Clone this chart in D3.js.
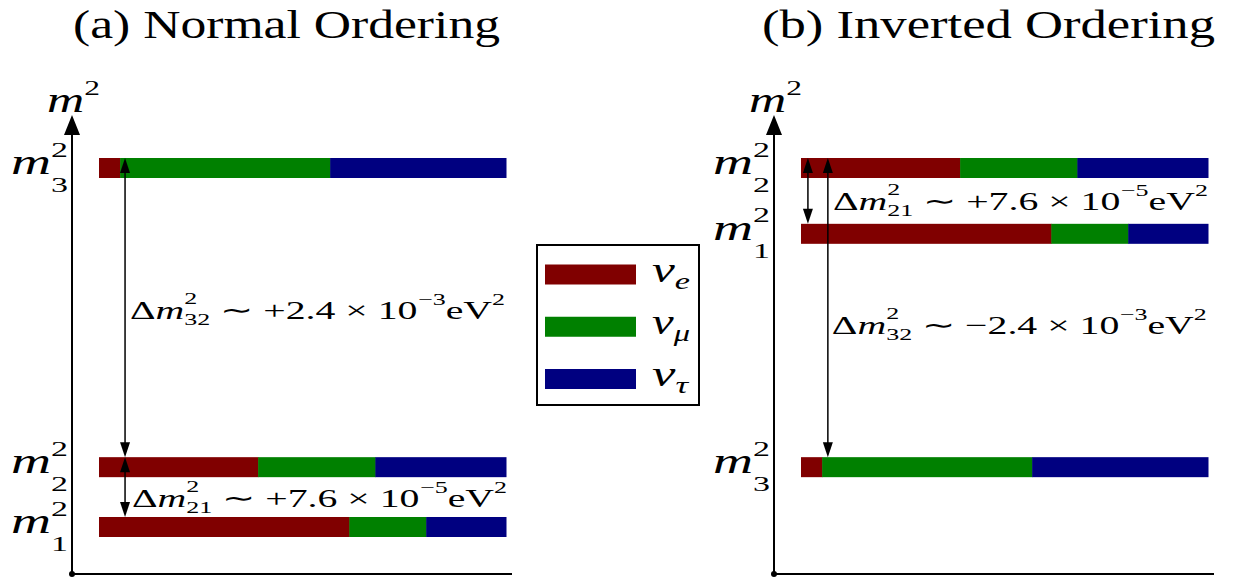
<!DOCTYPE html>
<html>
<head>
<meta charset="utf-8">
<script src="https://cdn.jsdelivr.net/npm/d3@7"></script>
<style>
  body { margin: 0; background: #fff; }
  svg { display: block; }
</style>
</head>
<body>
<svg id="chart" width="1237" height="581"></svg>
<script>
// ---- data -------------------------------------------------------------
// mass eigenstates (index) and neutrino flavours
const states = ["1", "2", "3"];
const flavours = ["e", "μ", "τ"];
const flavourColors = ["#800000", "#008000", "#000080"];
// flavour content of each mass eigenstate (m1, m2, m3)
const fracE   = [0.615, 0.391, 0.052];
const fracMu  = [0.189, 0.288, 0.516];
const fracTau = [0.196, 0.321, 0.432];
// schematic m² level of m1, m2, m3 in each ordering
const normalLevels   = [0, 1, 6];
const invertedLevels = [4.9, 6, 1];
const panelTitles = ["(a) Normal Ordering", "(b) Inverted Ordering"];
// mass splittings: lower state, upper state, sign, mantissa, exponent
const normalSplits = [
  { lo: 1, hi: 2, name: "32", sign: "+", val: "2.4", exp: "−3", at: 0.064 },
  { lo: 0, hi: 1, name: "21", sign: "+", val: "7.6", exp: "−5", at: 0.064 }
];
const invertedSplits = [
  { lo: 0, hi: 1, name: "21", sign: "+", val: "7.6", exp: "−5", at: 0.017 },
  { lo: 2, hi: 1, name: "32", sign: "−", val: "2.4", exp: "−3", at: 0.066 }
];

// ---- font: first installed serif face from the list -------------------
function pickFont(list) {
  const ctx = document.createElement("canvas").getContext("2d");
  const probe = "mmmmmwwwlliiΔν0123";
  const width = fam => { ctx.font = `40px ${fam}`; return ctx.measureText(probe).width; };
  for (const f of list) {
    const q = `"${f}"`;
    if (width(`${q}, monospace`) !== width("monospace") ||
        width(`${q}, sans-serif`) !== width("sans-serif")) return q;
  }
  return "serif";
}
const serif = pickFont(["Liberation Serif", "Times New Roman", "Tinos", "DejaVu Serif"]) + ", serif";

// ---- layout -----------------------------------------------------------
const svg = d3.select("#chart");
const barH = 20;
const y = d3.scaleLinear().domain([0, 6]).range([527, 168]);
const axisBottom = 574, axisTip = 115;

// label placement per splitting: text start offset and baseline offset from arrow middle
const normalLabelPos = [{ dx: 5, dy: 11 }, { dx: 7, dy: 20 }];
const invertedLabelPos = [{ dx: 25, dy: 19.5 }, { dx: 4, dy: 26.5 }];

// draws a run of text pieces (base, super/subscripts) and stretches it to a width
function drawMath(parent, runs, x, baseline, width, anchor) {
  const g = parent.append("g");
  const inner = g.append("g");
  let cx = 0;
  const put = (p, at) => {
    const t = inner.append("text")
      .attr("x", at).attr("y", p.dy || 0)
      .style("font-family", serif)
      .style("font-size", p.size + "px")
      .style("font-style", p.italic ? "italic" : "normal")
      .attr("fill", "#000")
      .style("white-space", "pre")
      .text(p.t);
    return t.node().getComputedTextLength();
  };
  runs.forEach(r => {
    if (r.stack) {
      const w = Math.max(...r.stack.map(p => put(p, cx)));
      cx += w;
    } else {
      cx += put(r, cx);
    }
  });
  const s = width ? width / cx : 1;
  inner.attr("transform", `scale(${s},1)`);
  const x0 = anchor === "end" ? x - cx * s : x;
  g.attr("transform", `translate(${x0},${baseline})`);
  return g;
}
const R = (t, size, dy) => ({ t, size, dy: dy || 0, italic: false });
const I = (t, size, dy) => ({ t, size, dy: dy || 0, italic: true });

function arrowHead(g, x, yTip, dir, len, half) {
  // dir = -1 points up, +1 points down
  g.append("path")
    .attr("d", `M${x},${yTip} L${x - half},${yTip - dir * len} L${x + half},${yTip - dir * len} Z`)
    .attr("fill", "#000");
}

function drawPanel(offset, levels, splits, labelPos, title, titleWidth) {
  const g = svg.append("g").attr("transform", `translate(${offset},0)`);
  const axisX = 72;
  const x = d3.scaleLinear().domain([0, 1]).range([99, 506]);

  // title
  g.append("text")
    .attr("x", offset ? 60 : 73)
    .attr("y", 38)
    .style("font-family", serif)
    .style("font-size", "40px")
    .attr("textLength", titleWidth)
    .attr("lengthAdjust", "spacingAndGlyphs")
    .text(title);

  // axes
  g.append("line")
    .attr("x1", axisX).attr("x2", axisX)
    .attr("y1", axisBottom).attr("y2", axisTip + 18)
    .attr("stroke", "#000").attr("stroke-width", 2);
  arrowHead(g, axisX, axisTip, -1, 20, 8);
  g.append("line")
    .attr("x1", axisX).attr("x2", 512)
    .attr("y1", axisBottom).attr("y2", axisBottom)
    .attr("stroke", "#000").attr("stroke-width", 2);
  g.append("circle").attr("cx", axisX).attr("cy", axisBottom).attr("r", 3).attr("fill", "#000");
  drawMath(g, [I("m", 36), R("2", 22, -17)], 47, 112, 53, "start");

  // stacked flavour bars
  const rows = states.map((s, i) => {
    const parts = [fracE[i], fracMu[i], fracTau[i]];
    let acc = 0;
    return parts.map((f, k) => {
      const seg = { state: i, flavour: k, x0: acc, x1: acc + f, level: levels[i] };
      acc += f;
      return seg;
    });
  }).flat();
  g.selectAll("rect.seg").data(rows).join("rect")
    .attr("class", "seg")
    .attr("x", d => x(d.x0))
    .attr("width", d => x(d.x1) - x(d.x0) + 0.5)
    .attr("y", d => y(d.level) - barH / 2)
    .attr("height", barH)
    .attr("fill", d => flavourColors[d.flavour]);

  // level labels m_i^2
  states.forEach((s, i) => {
    const yc = y(levels[i]);
    drawMath(g, [I("m", 36), { stack: [R("2", 22, -17.5), R(s, 22, 18)] }],
      axisX - 4, yc + 6, 57, "end");
  });

  // splitting arrows and labels
  splits.forEach((sp, j) => {
    const ax = x(sp.at);
    const yHi = y(levels[sp.hi]) - barH / 2;
    const yLo = y(levels[sp.lo]) - barH / 2;
    const top = Math.min(yHi, yLo), bot = Math.max(yHi, yLo);
    g.append("line")
      .attr("x1", ax).attr("x2", ax)
      .attr("y1", top + 10).attr("y2", bot - 10)
      .attr("stroke", "#000").attr("stroke-width", 1.5);
    arrowHead(g, ax, top, -1, 15, 5);
    arrowHead(g, ax, bot, 1, 15, 5);
    const lp = labelPos[j];
    const base = (top + bot) / 2 + lp.dy;
    drawMath(g, [
      R("Δ", 26), I("m", 26),
      { stack: [R("2", 17, -15), R(sp.name, 17, 6)] },
      R(" ∼ " + sp.sign + sp.val + " × 10", 26),
      R(sp.exp, 17, -14), R("eV", 26), R("2", 17, -14)
    ], ax + lp.dx, base, 375, "start");
  });
  return g;
}

drawPanel(0, normalLevels, normalSplits, normalLabelPos, panelTitles[0], 427);
drawPanel(702, invertedLevels, invertedSplits, invertedLabelPos, panelTitles[1], 453);

// legend
const legend = svg.append("g");
legend.append("rect")
  .attr("x", 537).attr("y", 245).attr("width", 162).attr("height", 160)
  .attr("fill", "#fff").attr("stroke", "#000").attr("stroke-width", 2);
const legendY = d3.scalePoint().domain(flavours).range([274.5, 379]);
flavours.forEach((f, k) => {
  const cy = legendY(f);
  legend.append("rect")
    .attr("x", 545).attr("y", cy - 10).attr("width", 91).attr("height", 20)
    .attr("fill", flavourColors[k]);
  drawMath(legend, [I("ν", 36), I(f, 24, 7)], 652, cy + 7, f === "τ" ? 36 : 38, "start");
});
</script>
</body>
</html>
